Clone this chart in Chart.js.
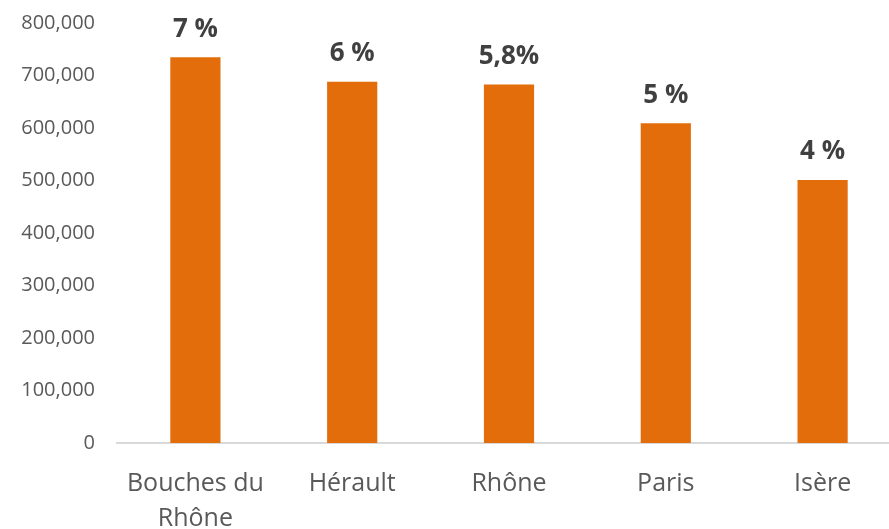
<!DOCTYPE html>
<html>
<head>
<meta charset="utf-8">
<script src="https://cdn.jsdelivr.net/npm/chart.js@4"></script>
<style>
    html, body { margin: 0; padding: 0; background: #fff; overflow: hidden; }
    #wrap { width: 901px; height: 529px; position: relative; }
</style>
</head>
<body>
<div id="wrap"><canvas id="barChart"></canvas></div>
<script>
// Data
const departements = [['Bouches du', 'Rhône'], 'Hérault', 'Rhône', 'Paris', 'Isère'];
const valeurs = [735000, 688000, 683000, 609000, 501000];
const parts = ['7 %', '6 %', '5,8%', '5 %', '4 %'];
const yTicks = [0, 100000, 200000, 300000, 400000, 500000, 600000, 700000, 800000];

const fontFamily = "'Open Sans', 'Liberation Sans', sans-serif";

// Labels above each bar
const barLabels = {
    id: 'barLabels',
    afterDatasetsDraw: function (chart) {
        const ctx = chart.ctx;
        const meta = chart.getDatasetMeta(0);
        ctx.save();
        ctx.font = 'bold 26px ' + fontFamily;
        ctx.fillStyle = '#404040';
        ctx.textAlign = 'center';
        ctx.textBaseline = 'middle';
        meta.data.forEach(function (bar, i) {
            ctx.fillText(parts[i], bar.x, bar.y - 28);
        });
        ctx.restore();
    }
};

const ctx = document.getElementById('barChart').getContext('2d');
new Chart(ctx, {
    type: 'bar',
    data: {
        labels: departements,
        datasets: [{
            data: valeurs,
            backgroundColor: '#E36C0B',
            categoryPercentage: 1,
            barPercentage: 0.32
        }]
    },
    options: {
        responsive: true,
        maintainAspectRatio: false,
        animation: false,
        layout: { padding: { top: 23, right: 0, bottom: 0, left: 0 } },
        plugins: {
            legend: { display: false },
            tooltip: { enabled: false }
        },
        scales: {
            x: {
                grid: { display: false, drawTicks: false },
                border: { display: true, color: '#D9D9D9', width: 2 },
                ticks: {
                    color: '#595959',
                    padding: 23,
                    font: { family: fontFamily, size: 25, lineHeight: 1.4 }
                },
                afterFit: function (scale) { scale.height = 86; }
            },
            y: {
                min: 0,
                max: 800000,
                afterBuildTicks: function (scale) {
                    scale.ticks = yTicks.map(function (v) { return { value: v }; });
                },
                grid: { display: false, drawTicks: false },
                border: { display: false },
                ticks: {
                    color: '#595959',
                    padding: 22,
                    font: { family: fontFamily, size: 20 },
                    callback: function (v) { return Number(v).toLocaleString('en-US'); }
                },
                afterFit: function (scale) {
                    scale.width = 117;
                    scale.paddingTop = 0;
                    scale.paddingBottom = 0;
                }
            }
        }
    },
    plugins: [barLabels]
});
</script>
</body>
</html>
